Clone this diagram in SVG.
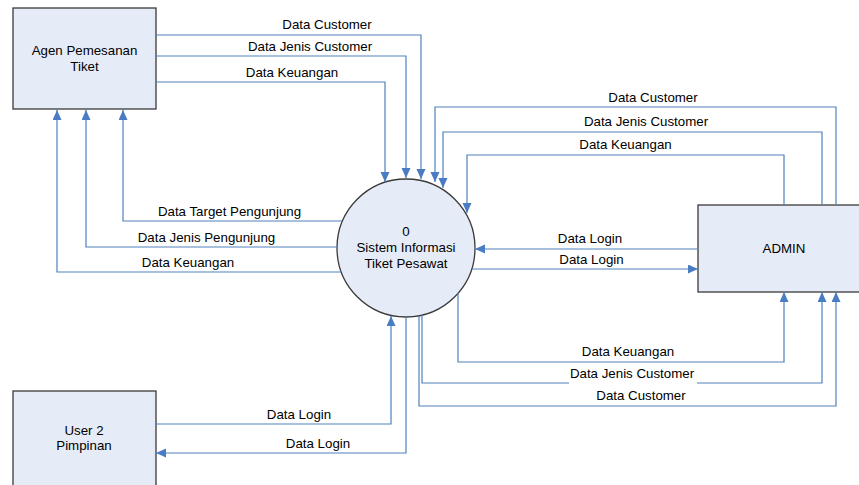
<svg xmlns="http://www.w3.org/2000/svg" width="859" height="485" viewBox="0 0 859 485">
  <style>
    .box { fill: #e6ecf7; stroke: #3a3a3a; stroke-width: 1.3; }
    .lbl { font-family: "Liberation Sans", Arial, sans-serif; font-size: 13.3px; fill: #000; text-anchor: middle; }
    .flow { fill: none; stroke: #4f81bd; stroke-width: 1.2; marker-end: url(#arrow); }
  </style>
  <defs>
    <marker id="arrow" markerUnits="userSpaceOnUse" markerWidth="11" markerHeight="10" refX="10" refY="4.5" orient="auto">
      <path d="M0,0 L10,4.5 L0,9 Z" fill="#4a7cc4"/>
    </marker>
  </defs>
  <rect width="859" height="485" fill="#fff"/>

  <!-- external entities and process -->
  <g id="agen">
    <rect class="box" x="13" y="8" width="143" height="101"/>
    <text class="lbl" x="84.5" y="55">Agen Pemesanan</text>
    <text class="lbl" x="84.5" y="71">Tiket</text>
  </g>
  <g id="sistem">
    <circle class="box" cx="406" cy="248" r="69"/>
    <text class="lbl" x="406" y="236">0</text>
    <text class="lbl" x="406" y="252">Sistem Informasi</text>
    <text class="lbl" x="406" y="268">Tiket Pesawat</text>
  </g>
  <g id="admin">
    <rect class="box" x="698" y="205" width="174" height="87"/>
    <text class="lbl" x="784" y="253">ADMIN</text>
  </g>
  <g id="user2">
    <rect class="box" x="13" y="391" width="143" height="100"/>
    <text class="lbl" x="84" y="435">User 2</text>
    <text class="lbl" x="84" y="450">Pimpinan</text>
  </g>

  <!-- data flows -->
  <g id="connectors">
    <path class="flow" d="M156,35 H421 V179"/>
    <path class="flow" d="M156,56 H406 V178"/>
    <path class="flow" d="M156,82 H385 V182"/>
    <path class="flow" d="M342,221 H123 V110"/>
    <path class="flow" d="M337,247 H86 V110"/>
    <path class="flow" d="M341,272 H57 V110"/>
    <path class="flow" d="M836,205 V107 H435 V182"/>
    <path class="flow" d="M822,205 V132 H443 V188"/>
    <path class="flow" d="M784,205 V155 H467 V213"/>
    <path class="flow" d="M698,249 H475"/>
    <path class="flow" d="M472,269 H698"/>
    <path class="flow" d="M458,293 V362 H784 V292"/>
    <path class="flow" d="M422,315 V383 H822 V292"/>
    <path class="flow" d="M419,316 V406 H836 V292"/>
    <path class="flow" d="M156,424 H391 V316"/>
    <path class="flow" d="M406,317 V453 H156"/>
  </g>

  <!-- flow labels -->
  <g id="labels">
    <text class="lbl" x="327" y="29">Data Customer</text>
    <text class="lbl" x="310" y="51">Data Jenis Customer</text>
    <text class="lbl" x="292" y="76.5">Data Keuangan</text>
    <text class="lbl" x="229.5" y="216">Data Target Pengunjung</text>
    <text class="lbl" x="206.5" y="241.5">Data Jenis Pengunjung</text>
    <text class="lbl" x="188" y="266.5">Data Keuangan</text>
    <text class="lbl" x="653" y="101.5">Data Customer</text>
    <text class="lbl" x="646" y="125.5">Data Jenis Customer</text>
    <text class="lbl" x="625.5" y="148.5">Data Keuangan</text>
    <text class="lbl" x="590" y="242.5">Data Login</text>
    <text class="lbl" x="591.5" y="263.5">Data Login</text>
    <text class="lbl" x="628" y="356">Data Keuangan</text>
    <rect x="569" y="365" width="128" height="19" fill="#fff"/>
    <text class="lbl" x="632" y="377.5">Data Jenis Customer</text>
    <text class="lbl" x="641" y="400">Data Customer</text>
    <text class="lbl" x="299" y="418.5">Data Login</text>
    <text class="lbl" x="318" y="447.5">Data Login</text>
  </g>
</svg>
